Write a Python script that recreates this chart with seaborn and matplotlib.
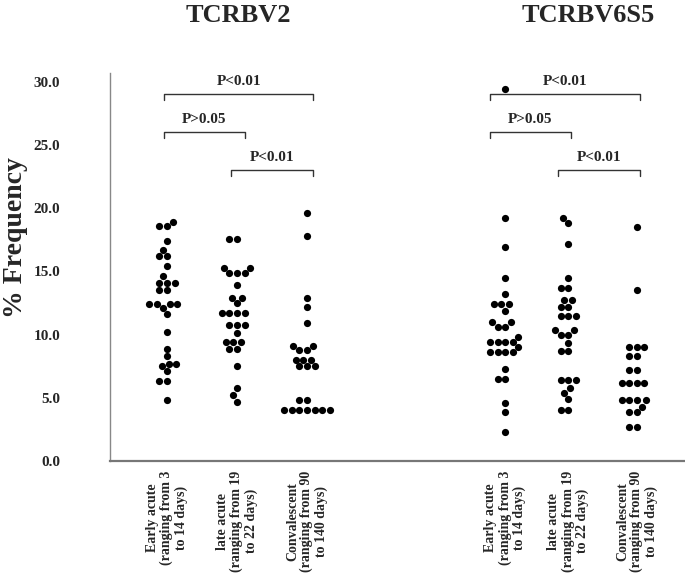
# Imports:

# Pandas:
import pandas as pd

# Matplotlib:
import matplotlib
matplotlib.use("Agg")
import matplotlib.pyplot as plt

# Seaborn:
import seaborn as sns

# Variables (Assignment):
# Groups:
groups = ["v2_early", "v2_late", "v2_conv", "v6_early", "v6_late", "v6_conv"]

# Tick labels:
phase_labels = [
    "Early acute\n(ranging from 3\nto 14 days)",
    "late acute\n(ranging from 19\nto 22 days)",
    "Convalescent\n(ranging from 90\nto 140 days)",
]

# Panel titles:
titles = ["TCRBV2", "TCRBV6S5"]

# > TCRBV2:
v2_early = [18.9, 18.6, 18.6, 17.4, 16.7, 16.2, 16.2, 15.4, 14.6, 14.1, 14.1, 14.1,
            13.5, 13.5, 12.4, 12.4, 12.4, 12.4, 12.1, 11.6, 10.2, 8.9, 8.3, 7.7,
            7.7, 7.5, 7.1, 6.3, 6.3, 4.8]
v2_late = [17.6, 17.6, 15.3, 15.3, 14.9, 14.9, 14.9, 13.9, 12.9, 12.9, 12.5, 11.7,
           11.7, 11.7, 11.7, 10.8, 10.8, 10.8, 10.1, 9.4, 9.4, 9.4, 8.9, 8.9, 7.5,
           5.8, 5.2, 4.7]
v2_conv = [19.6, 17.8, 12.9, 12.2, 10.9, 9.1, 9.1, 8.8, 8.8, 8.0, 8.0, 8.0, 7.5,
           7.5, 7.5, 4.8, 4.8, 4.0, 4.0, 4.0, 4.0, 4.0, 4.0, 4.0]

# > TCRBV6S5:
v6_early = [29.4, 19.2, 16.9, 14.5, 13.2, 12.4, 12.4, 12.4, 11.9, 11.0, 11.0, 10.6,
            10.6, 9.8, 9.4, 9.4, 9.4, 9.4, 9.0, 8.6, 8.6, 8.6, 8.6, 7.3, 6.5, 6.5,
            4.6, 3.9, 2.3]
v6_late = [19.2, 18.8, 17.2, 14.5, 13.7, 13.7, 12.7, 12.7, 12.2, 12.2, 11.5, 11.5,
           11.5, 10.4, 10.4, 10.0, 10.0, 9.3, 8.7, 8.7, 6.4, 6.4, 6.4, 5.8, 5.4,
           4.9, 4.0, 4.0]
v6_conv = [18.5, 13.5, 9.0, 9.0, 9.0, 8.3, 8.3, 7.2, 7.2, 6.2, 6.2, 6.2, 6.2, 4.8,
           4.8, 4.8, 4.8, 4.3, 3.9, 3.9, 2.7, 2.7]

# P-values (left group, right group, label):
comparisons = [
    (0, 2, "P<0.01"), (0, 1, "P>0.05"), (1, 2, "P<0.01"),
    (3, 5, "P<0.01"), (3, 4, "P>0.05"), (4, 5, "P<0.01"),
]

# Layout:
positions = [0, 1, 2, 4.83, 5.73, 6.71]
bracket_x = [(-0.04, 2.09), (-0.04, 1.11), (0.92, 2.09),
             (4.61, 6.76), (4.61, 5.77), (5.58, 6.76)]
bracket_y = [29.0, 26.0, 23.0, 29.0, 26.0, 23.0]

# Dataframe:
values = [v2_early, v2_late, v2_conv, v6_early, v6_late, v6_conv]
dataframe = pd.DataFrame({
    "position": [p for p, v in zip(positions, values) for _ in v],
    "frequency": [x for v in values for x in v],
})

# Style:
sns.set_style("white")
plt.rcParams["font.family"] = ["Liberation Serif", "DejaVu Serif"]
plt.rcParams["font.weight"] = "bold"

# Figure:
fig = plt.figure(figsize=(6.85, 5.81), dpi=100)
ax = fig.add_axes([110 / 685, 1 - 461 / 581, 575 / 685, 388 / 581])

# Swarm:
sns.swarmplot(
    data=dataframe,
    x="position",
    y="frequency",
    native_scale=True,
    color="black",
    size=5.2,
    linewidth=0,
    ax=ax,
)

# Limits:
ax.set_xlim(-0.814, 7.4)
ax.set_ylim(0, 30.7)

# Ticks:
ax.set_yticks([0, 5, 10, 15, 20, 25, 30])
ax.set_yticklabels([f"{t:.1f}" for t in [0, 5, 10, 15, 20, 25, 30]],
                   fontsize=11, fontweight="bold")
ax.tick_params(axis="y", direction="in", length=4, pad=36, color="#777777")
ax.set_xticks(positions)
ax.set_xticklabels(phase_labels * 2, rotation=90, fontsize=10,
                   fontweight="bold", linespacing=1.08, multialignment="center")
ax.tick_params(axis="x", length=0, pad=7)

# Spines:
for side in ["top", "right"]:
    ax.spines[side].set_visible(False)
ax.spines["left"].set_color("#888888")
ax.spines["left"].set_linewidth(1.0)
ax.spines["bottom"].set_color("#777777")
ax.spines["bottom"].set_linewidth(1.6)

# Labels:
ax.set_xlabel("")
ax.set_ylabel("")
fig.text(16 / 685, 1 - 238 / 581, "% Frequency", rotation=90, fontsize=20,
         fontweight="bold", ha="center", va="center")

# Titles:
fig.text(238 / 685, 1 - 16 / 581, titles[0], fontsize=19, fontweight="bold",
         ha="center", va="center")
fig.text(588 / 685, 1 - 16 / 581, titles[1], fontsize=19, fontweight="bold",
         ha="center", va="center")

# Brackets:
for (i, j, label), (x0, x1), y in zip(comparisons, bracket_x, bracket_y):
    ax.plot([x0, x0, x1, x1], [y - 0.45, y, y, y - 0.45], color="#333333",
            linewidth=1.0, clip_on=False)
    ax.text((x0 + x1) / 2, y + 0.5, label, fontsize=11, fontweight="bold",
            ha="center", va="bottom")

# Save:
fig.savefig("out.png", dpi=100)
